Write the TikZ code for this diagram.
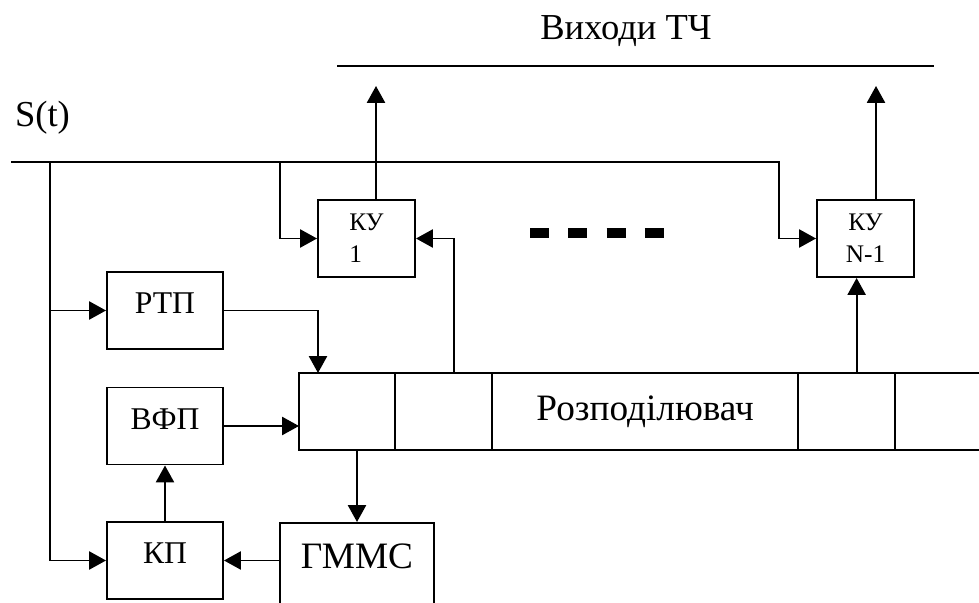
\documentclass[tikz,border=0pt]{standalone}
\usepackage{fontspec}
\setmainfont{Liberation Serif}
\usetikzlibrary{arrows.meta,positioning,calc}

\begin{document}
\begin{tikzpicture}[
      x=0.025cm,y=-0.025cm,
      line width=1.4pt,
      box/.style={draw,minimum width=2.9cm,minimum height=1.925cm,inner sep=0pt,
                  font=\fontsize{22.5}{27}\selectfont,text height=0.55cm,text depth=0.4cm},
      kubox/.style={draw,minimum width=2.425cm,minimum height=1.925cm,inner sep=0pt,
                  font=\fontsize{18}{22.8}\selectfont},
      cell/.style={draw,minimum height=1.925cm,inner sep=0pt,outer sep=0pt},
      lbl/.style={font=\fontsize{26}{31}\selectfont,anchor=base,inner sep=0pt},
      arr/.style={-{Triangle[length=0.42cm,width=0.45cm]}}]
    \clip (0,0) rectangle (979,603);
    % texts
    \node[lbl] (vyh) at (626,40) {Виходи ТЧ};
    \node[lbl] (st) at (42.5,127) {S(t)};
    % blocks
    \node[box] (rtp) at (165,310.5) {РТП};
    \node[box] (vfp) at (165,426) {ВФП};
    \node[box] (kp) at (165,560.5) {КП};
    \node[kubox,align=left] (ku1) at (366.5,238.5) {КУ\\1};
    \node[kubox,align=center] (kun) at (865.5,238.5) {КУ\\N-1};
    \node[draw,minimum width=3.85cm,minimum height=2.5cm,inner ysep=0pt,
          text height=1.15cm,text depth=1.35cm,anchor=north,
          font=\fontsize{26.5}{32}\selectfont] (gmms) at (357,522) {ГММС};
    % distributor
    \node[cell,minimum width=2.4cm] (d1) at (347,411.5) {};
    \node[cell,minimum width=2.425cm,right=0pt of d1] (d2) {};
    \node[cell,minimum width=7.65cm,right=0pt of d2,
          font=\fontsize{26.5}{32}\selectfont] (d3) {Розподілювач};
    \node[cell,minimum width=2.425cm,right=0pt of d3] (d4) {};
    \node[cell,minimum width=2.5cm,right=0pt of d4] (d5) {};
    % points on the lines
    \coordinate (sin) at (11,162);
    \coordinate (sbr) at (779,162);
    \coordinate (t1) at (50,162);
    \coordinate (t2) at (280,162);
    \coordinate (o1) at (376,86);
    \coordinate (on) at (876,86);
    \coordinate (ol) at (337,66);
    \coordinate (or) at (934,66);
    \coordinate (dl) at (530,233);
    \coordinate (dr) at (664,233);
    \coordinate (t3) at ($(d2.north)+(10,0)$);
    \coordinate (t4) at ($(d4.north)+(10,0)$);
    % connectors
    \draw (ol) -- (or);
    \draw[arr] (sin) -- (sbr) |- (kun.west);
    \draw[arr] (t1) |- (rtp.west);
    \draw[arr] (t1) |- (kp.west);
    \draw[arr] (t2) |- (ku1.west);
    \draw[arr] (o1 |- ku1.north) -- (o1);
    \draw[arr] (on |- kun.north) -- (on);
    \draw[arr] (t3) |- (ku1.east);
    \draw[arr] (t4) -- (t4 |- kun.south);
    \draw[arr] (rtp.east) -| ($(d1.north)+(-29,0)$);
    \draw[arr] (vfp.east) -- (vfp.east -| d1.west);
    \draw[arr] (d1.south -| gmms.north) -- (gmms.north);
    \draw[arr] (kp.east -| gmms.west) -- (kp.east);
    \draw[arr] (kp.north) -- (vfp.south);
    \draw[line width=0.23cm,dash pattern=on 0.475cm off 0.483cm] (dl) -- (dr);
  \end{tikzpicture}
\end{document}
